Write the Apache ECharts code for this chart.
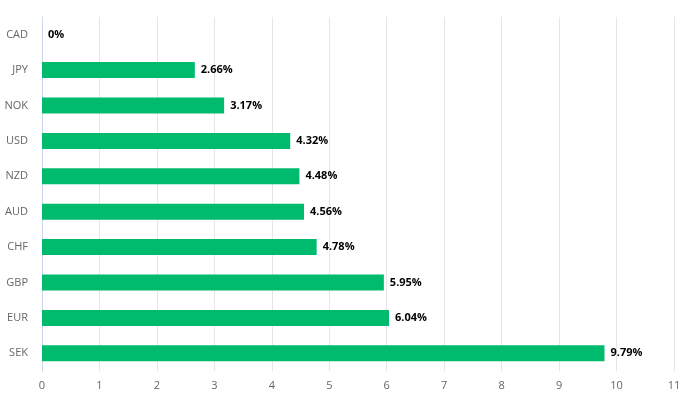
<!DOCTYPE html>
<html><head><meta charset="utf-8">
<script src="https://cdn.jsdelivr.net/npm/echarts@6/dist/echarts.min.js"></script>
<style>html,body{margin:0;padding:0;background:#fff}#c{width:685px;height:398px}</style>
</head><body><div id="c"></div>
<script>
const categories = ["CAD","JPY","NOK","USD","NZD","AUD","CHF","GBP","EUR","SEK"];
const values = [0,2.66,3.17,4.32,4.48,4.56,4.78,5.95,6.04,9.79];
const xTicks = [0,1,2,3,4,5,6,7,8,9,10,11];
const chart = echarts.init(document.getElementById('c'));
chart.setOption({
  animation:false,
  grid:{left:42,right:11,top:17,bottom:27,containLabel:false},
  xAxis:{type:'value',min:xTicks[0],max:xTicks[xTicks.length-1],interval:1,
    axisLine:{show:false},axisTick:{show:false},
    splitLine:{lineStyle:{color:'#e6e6e6'}},
    axisLabel:{color:'#666',fontSize:11,fontFamily:'Open Sans',margin:9}},
  yAxis:{type:'category',data:categories,inverse:true,
    axisLine:{lineStyle:{color:'#ccd6eb'}},
    axisTick:{lineStyle:{color:'#ccd6eb'},length:6},
    axisLabel:{color:'#666',fontSize:11,fontFamily:'Open Sans',margin:14}},
  series:[{type:'bar',data:values,barWidth:16,itemStyle:{color:'#00ba6d'},
    label:{show:true,position:'right',distance:6,formatter:p=>p.value+'%',
      color:'#000',fontWeight:'bold',fontSize:11,fontFamily:'Open Sans'}}]
});
</script></body></html>
